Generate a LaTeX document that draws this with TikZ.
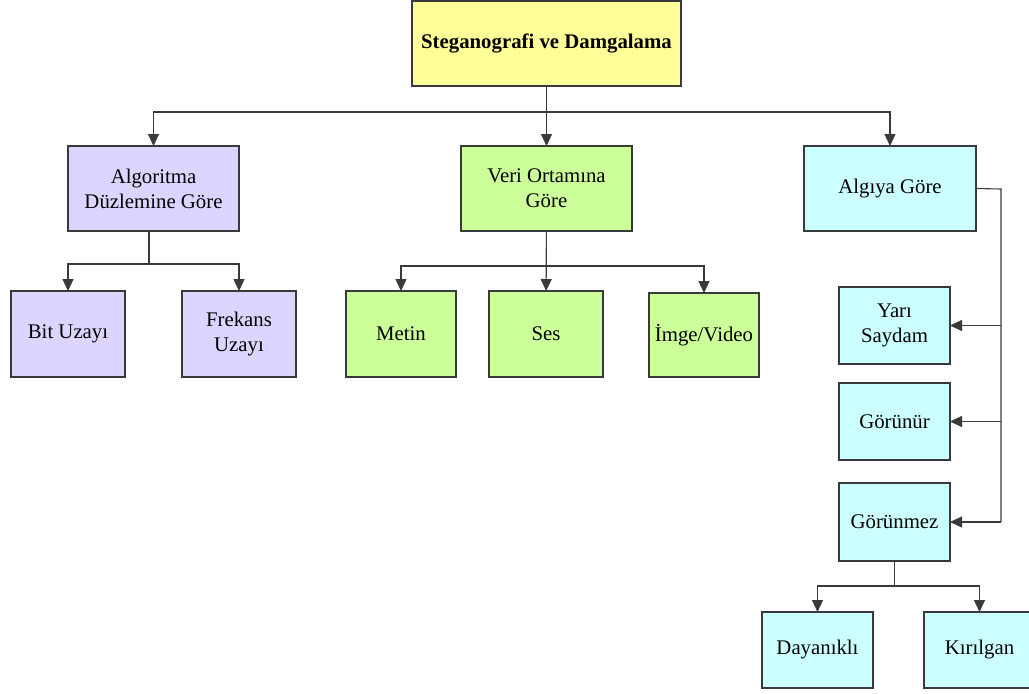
\documentclass[tikz,border=0pt]{standalone}
\usepackage{fontspec}
\setmainfont{LiberationSerif}[Extension=.ttf, UprightFont=*-Regular, BoldFont=*-Bold]
\usetikzlibrary{arrows.meta}
\definecolor{cyel}{HTML}{FFFF99}
\definecolor{cpur}{HTML}{DDD5FF}
\definecolor{cgrn}{HTML}{CCFF99}
\definecolor{ccyn}{HTML}{CCFFFF}
\definecolor{cline}{HTML}{3A3A3A}
\tikzset{
  box/.style={draw=cline, line width=1.2pt, inner sep=0pt, outer sep=0pt, align=center,
    font=\fontsize{20.8}{25}\selectfont},
  wire/.style={draw=cline, line width=1.1pt},
  conn/.style={wire, -{Triangle[length=12pt,width=11pt]}},
}
\begin{document}
\begin{tikzpicture}[x=1pt,y=-1pt]
\useasboundingbox (0,0) rectangle (1029,694);
\clip (0,0) rectangle (1029,694);
% nodes
\node[box, fill=cyel, minimum width=269pt, minimum height=85pt, font=\fontsize{20.8}{25}\selectfont\bfseries] (title) at (546.5,43.5) {Steganografi ve Damgalama};
\node[box, fill=cpur, minimum width=171pt, minimum height=85pt] (alg) at (153.5,188.5) {Algoritma\\Düzlemine Göre};
\node[box, fill=cgrn, minimum width=171pt, minimum height=85pt] (veri) at (546.5,188.5) {Veri Ortamına\\Göre};
\node[box, fill=ccyn, minimum width=172pt, minimum height=85pt] (algi) at (890,188.5) {Algıya Göre};
\node[box, fill=cpur, minimum width=114pt, minimum height=86pt] (bit) at (68,334) {Bit Uzayı};
\node[box, fill=cpur, minimum width=114pt, minimum height=86pt] (frek) at (239,334) {Frekans\\Uzayı};
\node[box, fill=cgrn, minimum width=110pt, minimum height=86pt] (metin) at (401,334) {Metin};
\node[box, fill=cgrn, minimum width=114pt, minimum height=86pt] (ses) at (546,334) {Ses};
\node[box, fill=cgrn, minimum width=110pt, minimum height=84pt] (imge) at (704,335) {İmge/Video};
\node[box, fill=ccyn, minimum width=111pt, minimum height=77pt] (yari) at (894.5,325.5) {Yarı\\Saydam};
\node[box, fill=ccyn, minimum width=111pt, minimum height=77pt] (gorunur) at (894.5,421.5) {Görünür};
\node[box, fill=ccyn, minimum width=111pt, minimum height=78pt] (gorunmez) at (894.5,522) {Görünmez};
\node[box, fill=ccyn, minimum width=111pt, minimum height=76pt] (dayan) at (817.5,650) {Dayanıklı};
\node[box, fill=ccyn, minimum width=111pt, minimum height=76pt] (kiril) at (979.5,650) {Kırılgan};
% connectors
\coordinate (b1) at (546.5,112);
\draw[conn] (title) -- (veri);
\draw[conn] (b1) -| (alg.north);
\draw[conn] (b1) -| (algi.north);
\coordinate (a1) at (149,264);
\draw[wire] (alg.south -| a1) -- (a1);
\draw[conn] (a1) -| (bit.north);
\draw[conn] (a1) -| (frek.north);
\coordinate (v1) at (546.5,266);
\draw[conn] (veri) -- (ses);
\draw[conn] (v1) -| (metin.north);
\draw[conn] (v1) -| (imge.north);
\coordinate (rx) at (1001,189);
\draw[wire] (algi.east) -- (rx) -- (rx |- gorunmez.east);
\draw[conn] (rx |- yari.east) -- (yari.east);
\draw[conn] (rx |- gorunur.east) -- (gorunur.east);
\draw[conn] (rx |- gorunmez.east) -- (gorunmez.east);
\coordinate (g1) at (894.5,586);
\draw[wire] (gorunmez.south) -- (g1);
\draw[conn] (g1) -| (dayan.north);
\draw[conn] (g1) -| (kiril.north);
\end{tikzpicture}
\end{document}
